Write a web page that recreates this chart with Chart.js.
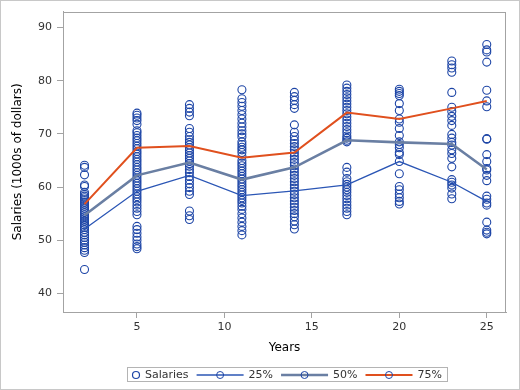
<!DOCTYPE html>
<html>
<head>
<meta charset="utf-8">
<script src="https://cdn.jsdelivr.net/npm/chart.js@4/dist/chart.umd.min.js"></script>
<style>
  html, body { margin: 0; padding: 0; background: #fff; }
  #wrap { width: 520px; height: 390px; position: relative; }
</style>
</head>
<body>
<div id="wrap"><canvas id="chart" width="520" height="390"></canvas></div>
<script>
// years of experience (x positions of each salary column)
var years = [2, 5, 8, 11, 14, 17, 20, 23, 25];

// salaries in 1000s of dollars, one array per year
var sal2 = [64.1, 63.7, 62.3, 60.4, 60.1, 59.0, 58.6, 58.3, 58.0, 57.6, 57.2, 56.8, 56.4, 56.0, 55.6, 55.2, 54.8, 54.4, 54.0, 53.6, 53.2, 52.8, 52.4, 52.0, 51.5, 51.0, 50.5, 50.0, 49.6, 49.1, 48.6, 48.1, 47.7, 44.5];
var sal5 = [73.9, 73.5, 73.0, 72.5, 71.8, 70.6, 70.2, 69.7, 69.2, 68.7, 68.2, 67.7, 67.2, 66.7, 66.2, 65.7, 65.2, 64.7, 64.2, 63.7, 63.2, 62.7, 62.2, 61.7, 61.2, 60.7, 60.2, 59.7, 59.2, 58.7, 58.2, 57.7, 57.2, 56.6, 56.0, 55.4, 54.8, 52.6, 52.0, 51.3, 50.6, 50.0, 49.3, 48.8, 48.4];
var sal8 = [75.5, 74.8, 74.1, 73.4, 71.0, 70.3, 69.5, 68.9, 68.4, 67.9, 67.4, 66.9, 66.4, 65.9, 65.4, 64.9, 64.4, 63.9, 63.3, 62.7, 62.0, 61.3, 60.6, 59.9, 59.2, 58.6, 55.5, 54.6, 53.9];
var sal11 = [78.3, 76.6, 75.9, 75.2, 74.4, 73.6, 72.8, 72.0, 71.3, 70.6, 70.0, 69.4, 68.5, 68.0, 67.5, 67.0, 66.5, 65.8, 65.0, 64.5, 64.0, 63.5, 63.0, 62.5, 62.0, 61.5, 61.0, 60.5, 60.0, 59.5, 59.0, 58.5, 58.0, 57.5, 57.0, 56.4, 55.8, 55.0, 54.2, 53.4, 52.6, 51.8, 51.0];
var sal14 = [77.8, 77.0, 76.3, 75.5, 74.8, 71.7, 70.3, 69.5, 68.8, 68.2, 67.6, 67.0, 66.4, 65.8, 65.2, 64.6, 64.0, 63.4, 62.8, 62.2, 61.6, 61.0, 60.4, 59.8, 59.2, 58.6, 58.0, 57.4, 56.8, 56.2, 55.6, 55.0, 54.4, 53.6, 52.9, 52.1];
var sal17 = [79.2, 78.6, 78.0, 77.4, 76.8, 76.2, 75.6, 75.0, 74.4, 73.8, 73.2, 72.6, 72.0, 71.4, 70.8, 70.2, 69.6, 69.2, 68.8, 68.5, 63.7, 62.8, 61.6, 61.0, 60.5, 60.0, 59.5, 59.0, 58.4, 57.8, 57.2, 56.6, 56.0, 55.4, 54.8];
var sal20 = [78.4, 78.0, 77.6, 77.2, 75.7, 74.4, 72.8, 72.2, 71.0, 69.7, 68.5, 68.0, 67.4, 66.5, 66.1, 64.8, 62.5, 60.1, 59.5, 58.7, 58.0, 57.3, 56.8];
var sal23 = [83.7, 83.0, 82.4, 81.6, 77.8, 75.0, 74.2, 73.3, 72.5, 71.6, 69.9, 69.2, 68.4, 67.9, 67.0, 66.3, 65.4, 63.8, 61.4, 60.9, 60.4, 59.8, 58.7, 57.8];
var sal25 = [86.8, 85.8, 85.4, 83.5, 78.2, 76.2, 75.1, 69.1, 69.0, 66.1, 64.8, 63.5, 63.2, 62.2, 61.2, 58.3, 57.7, 57.0, 56.6, 53.4, 51.9, 51.5, 51.2];

// quantile regression fits at each year
var q25 = [52.1, 59.2, 62.2, 58.4, 59.3, 60.4, 64.8, 60.9, 57.3];
var q50 = [54.7, 62.2, 64.6, 61.4, 63.7, 68.8, 68.4, 68.1, 63.3];
var q75 = [56.8, 67.4, 67.7, 65.5, 66.5, 74.0, 72.8, 74.8, 76.2];

var xTicks = [5, 10, 15, 20, 25];
var yTicks = [40, 50, 60, 70, 80, 90];

var salaryCols = [sal2, sal5, sal8, sal11, sal14, sal17, sal20, sal23, sal25];
var scatterPts = [];
for (var i = 0; i < years.length; i++) {
    for (var j = 0; j < salaryCols[i].length; j++) {
        scatterPts.push({ x: years[i], y: salaryCols[i][j] });
    }
}

function toLine(q) {
    return years.map(function (yr, k) { return { x: yr, y: q[k] }; });
}

var markerColor = '#1d45a6';
var axisColor = '#a3a3a3';
var textColor = '#333333';

// frame around plot + outer image border
var framePlugin = {
    id: 'frame',
    beforeDraw: function (chart) {
        var ctx = chart.ctx;
        ctx.save();
        ctx.fillStyle = '#ffffff';
        ctx.fillRect(0, 0, chart.width, chart.height);
        ctx.strokeStyle = '#c8c8c8';
        ctx.lineWidth = 1;
        ctx.strokeRect(0.5, 0.5, chart.width - 1, chart.height - 1);
        ctx.restore();
    },
    afterDraw: function (chart) {
        var a = chart.chartArea;
        var ctx = chart.ctx;
        ctx.save();
        ctx.strokeStyle = axisColor;
        ctx.lineWidth = 1;
        ctx.strokeRect(Math.round(a.left) + 0.5, Math.round(a.top) + 0.5,
            Math.round(a.right - a.left) - 1, Math.round(a.bottom - a.top));
        ctx.restore();
    }
};

// legend drawn in a box under the x axis title
var boxLegend = {
    id: 'boxLegend',
    afterDraw: function (chart) {
        var ctx = chart.ctx;
        var ds = chart.data.datasets;
        var items = [ds[3], ds[0], ds[1], ds[2]];
        ctx.save();
        ctx.font = '11px "DejaVu Sans"';
        var pad = 5, lineLen = 47, gapTxt = 5, gapItem = 8, markW = 8;
        var total = pad * 2;
        items.forEach(function (d, k) {
            var w = (d.type === 'line' ? lineLen : markW) + gapTxt + ctx.measureText(d.label).width;
            total += w + (k < items.length - 1 ? gapItem : 0);
        });
        var a = chart.chartArea;
        var cx = (a.left + a.right) / 2 + 2;
        var x = Math.round(cx - total / 2);
        var top = 368, h = 14, cy = top + h / 2;
        ctx.strokeStyle = '#b4b4b4';
        ctx.lineWidth = 1;
        ctx.strokeRect(x + 0.5, top - 0.5, Math.round(total), h);
        x += pad;
        items.forEach(function (d) {
            if (d.type === 'line') {
                ctx.strokeStyle = d.borderColor;
                ctx.lineWidth = d.borderWidth;
                ctx.beginPath();
                ctx.moveTo(x, cy);
                ctx.lineTo(x + lineLen, cy);
                ctx.stroke();
                ctx.strokeStyle = markerColor;
                ctx.lineWidth = 1;
                ctx.beginPath();
                ctx.arc(x + lineLen / 2, cy, 3.5, 0, Math.PI * 2);
                ctx.stroke();
                x += lineLen + gapTxt;
            } else {
                ctx.strokeStyle = markerColor;
                ctx.lineWidth = 1.2;
                ctx.beginPath();
                ctx.arc(x + markW / 2, cy, 3.5, 0, Math.PI * 2);
                ctx.stroke();
                x += markW + gapTxt;
            }
            ctx.fillStyle = textColor;
            ctx.textBaseline = 'middle';
            ctx.textAlign = 'left';
            ctx.fillText(d.label, x, cy + 0.5);
            x += ctx.measureText(d.label).width + gapItem;
        });
        ctx.restore();
    }
};

var ctx = document.getElementById('chart').getContext('2d');
var myChart = new Chart(ctx, {
    type: 'scatter',
    data: {
        datasets: [
            { type: 'line', label: '25%', data: toLine(q25), borderColor: '#2b56b5', borderWidth: 1.3,
              pointRadius: 0, fill: false, tension: 0, order: 1 },
            { type: 'line', label: '50%', data: toLine(q50), borderColor: '#6a7fa3', borderWidth: 2.6,
              pointRadius: 0, fill: false, tension: 0, order: 1 },
            { type: 'line', label: '75%', data: toLine(q75), borderColor: '#e0501e', borderWidth: 2,
              pointRadius: 0, fill: false, tension: 0, order: 1 },
            { type: 'scatter', label: 'Salaries', data: scatterPts, pointStyle: 'circle', pointRadius: 4,
              pointBorderWidth: 1.1, borderColor: markerColor, backgroundColor: 'rgba(0,0,0,0)',
              pointBackgroundColor: 'rgba(0,0,0,0)', pointBorderColor: markerColor, order: 2 }
        ]
    },
    options: {
        responsive: false,
        animation: false,
        layout: { padding: { left: 0, right: 14, top: 8, bottom: 28 } },
        plugins: {
            legend: { display: false },
            tooltip: { enabled: false }
        },
        scales: {
            x: {
                type: 'linear',
                min: 0.77,
                max: 26.1,
                afterBuildTicks: function (scale) {
                    scale.ticks = xTicks.map(function (v) { return { value: v }; });
                },
                afterFit: function (scale) { scale.height = 50; },
                grid: { drawOnChartArea: false, drawTicks: true, tickLength: 6, color: axisColor },
                border: { display: true, color: axisColor },
                ticks: { color: textColor, font: { family: 'DejaVu Sans', size: 11 }, padding: 3, maxRotation: 0 },
                title: { display: true, text: 'Years', color: '#000', font: { family: 'DejaVu Sans', size: 12 },
                         padding: { top: 0, bottom: 7 } }
            },
            y: {
                type: 'linear',
                min: 36.5,
                max: 93,
                afterBuildTicks: function (scale) {
                    scale.ticks = yTicks.map(function (v) { return { value: v }; });
                },
                afterFit: function (scale) { scale.width = 63; },
                grid: { drawOnChartArea: false, drawTicks: true, tickLength: 6, color: axisColor },
                border: { display: true, color: axisColor },
                ticks: { color: textColor, font: { family: 'DejaVu Sans', size: 11 }, padding: 5 },
                title: { display: true, text: 'Salaries (1000s of dollars)', color: '#000',
                         font: { family: 'DejaVu Sans', size: 12 }, padding: { top: 11, bottom: 0 } }
            }
        }
    },
    plugins: [framePlugin, boxLegend]
});
</script>
</body>
</html>
